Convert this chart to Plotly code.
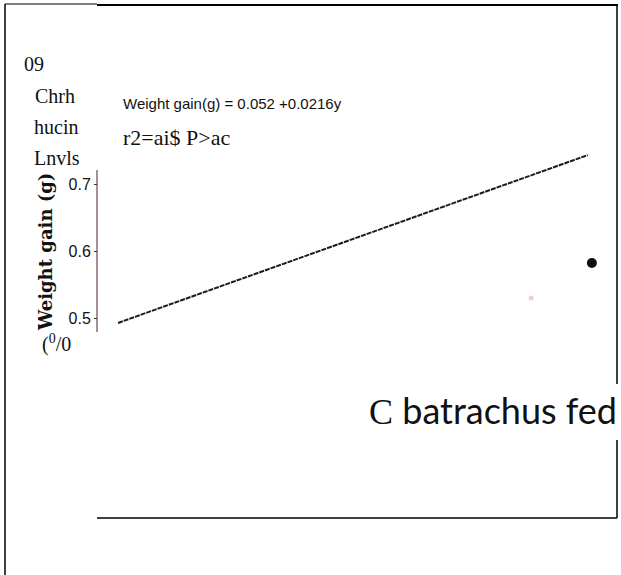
import plotly.graph_objects as go

W, H = 621, 575

# fitted regression: Weight gain (g) = 0.052 + 0.0216 y
fit_intercept = 0.052
fit_slope = 0.0216
fit_x = [20.4, 32.0]
fit_y = [fit_intercept + fit_slope * v for v in fit_x]

# observed group means
obs_x = [32.1]
obs_y = [0.582]
faint_x = [30.6]
faint_y = [0.53]

y_ticks = [0.5, 0.6, 0.7]
y_ticklabels = ["0.5", "0.6", "0.7"]

side_labels = ["09", "Chrh", "hucin", "Lnvls"]


def px(x):
    return x / W


def py(y):
    return 1 - y / H


fig = go.Figure()

fig.add_trace(go.Scatter(
    x=fit_x, y=fit_y, mode="lines",
    line=dict(color="#1c1c1c", width=2, dash="5px,1px"),
    hoverinfo="skip", showlegend=False,
))
fig.add_trace(go.Scatter(
    x=faint_x, y=faint_y, mode="markers",
    marker=dict(color="#f2cfd2", size=5),
    showlegend=False,
))
fig.add_trace(go.Scatter(
    x=obs_x, y=obs_y, mode="markers",
    marker=dict(color="#111111", size=10, symbol="circle"),
    showlegend=False,
))

# plot area in pixels: x 98..617, y 5..383
x_lo, x_hi = 19.906, 32.72
y_hi = 0.9672
y_lo = 0.4030

fig.update_layout(
    width=W, height=H,
    margin=dict(l=0, r=0, t=0, b=0),
    paper_bgcolor="white", plot_bgcolor="white",
    xaxis=dict(
        domain=[px(98), px(617)], range=[x_lo, x_hi],
        showgrid=False, zeroline=False, showline=False,
        showticklabels=False, ticks="",
    ),
    yaxis=dict(
        domain=[py(383), py(5)], range=[y_lo, y_hi],
        showgrid=False, zeroline=False, showline=False,
        tickvals=y_ticks, ticktext=y_ticklabels,
        ticks="outside", ticklen=3, tickcolor="#333",
        tickfont=dict(family="Liberation Sans Narrow, Liberation Sans", size=16, color="#111"),
    ),
)

shapes = []
line_k = dict(color="black", width=1.5)
# outer frame pieces
shapes.append(dict(type="line", xref="paper", yref="paper",
                   x0=px(5), x1=px(5), y0=py(4), y1=py(575), line=line_k))
shapes.append(dict(type="line", xref="paper", yref="paper",
                   x0=px(5), x1=px(97), y0=py(4), y1=py(4), line=dict(color="black", width=1.2)))
shapes.append(dict(type="line", xref="paper", yref="paper",
                   x0=px(97), x1=px(618), y0=py(5), y1=py(5), line=dict(color="black", width=2.2)))
shapes.append(dict(type="line", xref="paper", yref="paper",
                   x0=px(617), x1=px(617), y0=py(5), y1=py(384), line=line_k))
shapes.append(dict(type="line", xref="paper", yref="paper",
                   x0=px(617), x1=px(617), y0=py(440), y1=py(518), line=line_k))
shapes.append(dict(type="line", xref="paper", yref="paper",
                   x0=px(97), x1=px(617), y0=py(518), y1=py(518), line=line_k))
# y axis line
shapes.append(dict(type="line", xref="paper", yref="paper",
                   x0=px(97), x1=px(97), y0=py(170), y1=py(332),
                   line=dict(color="#4a2424", width=1)))
fig.update_layout(shapes=shapes)

serif = "Liberation Serif, Times New Roman, serif"
ann = []
ys = [64, 96, 127, 158]
xs = [22, 33, 32, 32]
for t, xx, yy in zip(side_labels, xs, ys):
    ann.append(dict(text=t, x=px(xx), y=py(yy), xref="paper", yref="paper",
                    xanchor="left", yanchor="middle", showarrow=False,
                    font=dict(family=serif, size=20, color="#111")))
ann.append(dict(text="(<sup>0</sup>/0", x=px(40), y=py(343), xref="paper", yref="paper",
                xanchor="left", yanchor="middle", showarrow=False,
                font=dict(family=serif, size=20, color="#111")))
ann.append(dict(text="Weight gain(g) = 0.052 +0.0216y", x=px(121), y=py(103),
                xref="paper", yref="paper", xanchor="left", yanchor="middle",
                showarrow=False,
                font=dict(family="Liberation Sans Narrow, Liberation Sans", size=15, color="#111")))
ann.append(dict(text="r2=ai$ P>ac", x=px(121), y=py(137), xref="paper", yref="paper",
                xanchor="left", yanchor="middle", showarrow=False,
                font=dict(family=serif, size=22, color="#111")))
ann.append(dict(text="<b>Weight gain (g)</b>", x=px(45), y=py(252), xref="paper", yref="paper",
                xanchor="center", yanchor="middle", textangle=-90, showarrow=False,
                font=dict(family="DejaVu Serif, serif", size=18, color="#111")))
ann.append(dict(text="<span style='font-family:Liberation Serif'>C</span> batrachus fed",
                x=px(619), y=py(410), xref="paper", yref="paper",
                xanchor="right", yanchor="middle", showarrow=False,
                font=dict(family="Lato, Open Sans, sans-serif", size=36, color="#111")))
fig.update_layout(annotations=ann)

fig.write_html("out.html")
